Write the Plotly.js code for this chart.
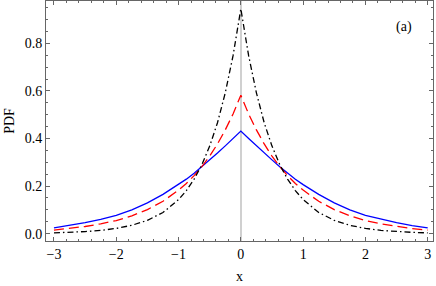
<!DOCTYPE html>
<html>
<head>
<meta charset="utf-8">
<script src="https://cdn.plot.ly/plotly-3.0.1.min.js"></script>
<style>html,body{margin:0;padding:0;background:#fff;}#chart{width:436px;height:286px;}</style>
</head>
<body>
<div id="chart"></div>
<script>
// x positions
const xValues = [-3, -2.75, -2.5, -2.25, -2, -1.75, -1.5, -1.25, -1, -0.875, -0.75, -0.625, -0.5, -0.375, -0.25, -0.125, 0,
                 0.125, 0.25, 0.375, 0.5, 0.625, 0.75, 0.875, 1, 1.25, 1.5, 1.75, 2, 2.25, 2.5, 2.75, 3];
// blue solid curve
const blueValues = [0.024, 0.034, 0.046, 0.060, 0.077, 0.100, 0.129, 0.165, 0.206, 0.229, 0.254, 0.281, 0.310, 0.339, 0.369, 0.400, 0.431,
                    0.400, 0.369, 0.339, 0.310, 0.281, 0.254, 0.229, 0.206, 0.165, 0.129, 0.100, 0.077, 0.060, 0.046, 0.034, 0.024];
// red dashed curve
const redValues = [0.015, 0.021, 0.030, 0.041, 0.055, 0.075, 0.101, 0.136, 0.183, 0.211, 0.244, 0.282, 0.326, 0.377, 0.436, 0.503, 0.582,
                   0.503, 0.436, 0.377, 0.326, 0.282, 0.244, 0.211, 0.183, 0.136, 0.101, 0.075, 0.055, 0.041, 0.030, 0.021, 0.015];
// black dash-dot curve
const blackValues = [0.0033, 0.0053, 0.0085, 0.0135, 0.022, 0.035, 0.056, 0.089, 0.143, 0.181, 0.229, 0.290, 0.368, 0.466, 0.592, 0.748, 0.945,
                     0.748, 0.592, 0.466, 0.368, 0.290, 0.229, 0.181, 0.143, 0.089, 0.056, 0.035, 0.022, 0.0135, 0.0085, 0.0053, 0.0033];
const xTicks = [-3, -2, -1, 0, 1, 2, 3];
const yTicks = [0.0, 0.2, 0.4, 0.6, 0.8];
const panelLabel = "(a)";
const xTitle = "x";
const yTitle = "PDF";

const font = {family: "Liberation Serif", size: 14, color: "#000"};
const traces = [
  {x: xValues, y: blueValues, mode: "lines", line: {color: "#0000ff", width: 1.3}},
  {x: xValues, y: redValues, mode: "lines", line: {color: "#ff0000", width: 1.3, dash: "10px,5px"}},
  {x: xValues, y: blackValues, mode: "lines", line: {color: "#000000", width: 1.3, dash: "6px,3px,1.5px,3px"}}
];
const axisCommon = {
  showgrid: false, showline: true, linecolor: "#666", linewidth: 1, mirror: "allticks",
  ticks: "inside", ticklen: 4, tickwidth: 1, tickcolor: "#666",
  tickfont: font
};
const layout = {
  width: 436, height: 286,
  margin: {l: 46, r: 3, t: 1, b: 45},
  paper_bgcolor: "#fff", plot_bgcolor: "#fff",
  showlegend: false,
  font: font,
  xaxis: Object.assign({}, axisCommon, {
    range: [-3.128, 3.085], tickvals: xTicks, ticktext: xTicks.map(v => v < 0 ? "\u2212" + Math.abs(v) : String(v)),
    zeroline: true, zerolinecolor: "#d0d0d0", zerolinewidth: 2,
    minor: {dtick: 0.2, tick0: 0, ticks: "inside", ticklen: 2, tickcolor: "#666", showgrid: false},
    title: {text: xTitle, font: font, standoff: 10}
  }),
  yaxis: Object.assign({}, axisCommon, {
    range: [-0.031, 0.978], tickvals: yTicks, ticktext: yTicks.map(v => v.toFixed(1)),
    zeroline: false,
    minor: {dtick: 0.05, tick0: 0, ticks: "inside", ticklen: 2, tickcolor: "#666", showgrid: false},
    title: {text: yTitle, font: font, standoff: 6}
  }),
  annotations: [{x: 2.62, y: 0.869, xref: "x", yref: "y", text: panelLabel, showarrow: false, font: font}]
};
Plotly.newPlot("chart", traces, layout, {staticPlot: true, displayModeBar: false});
</script>
</body>
</html>
